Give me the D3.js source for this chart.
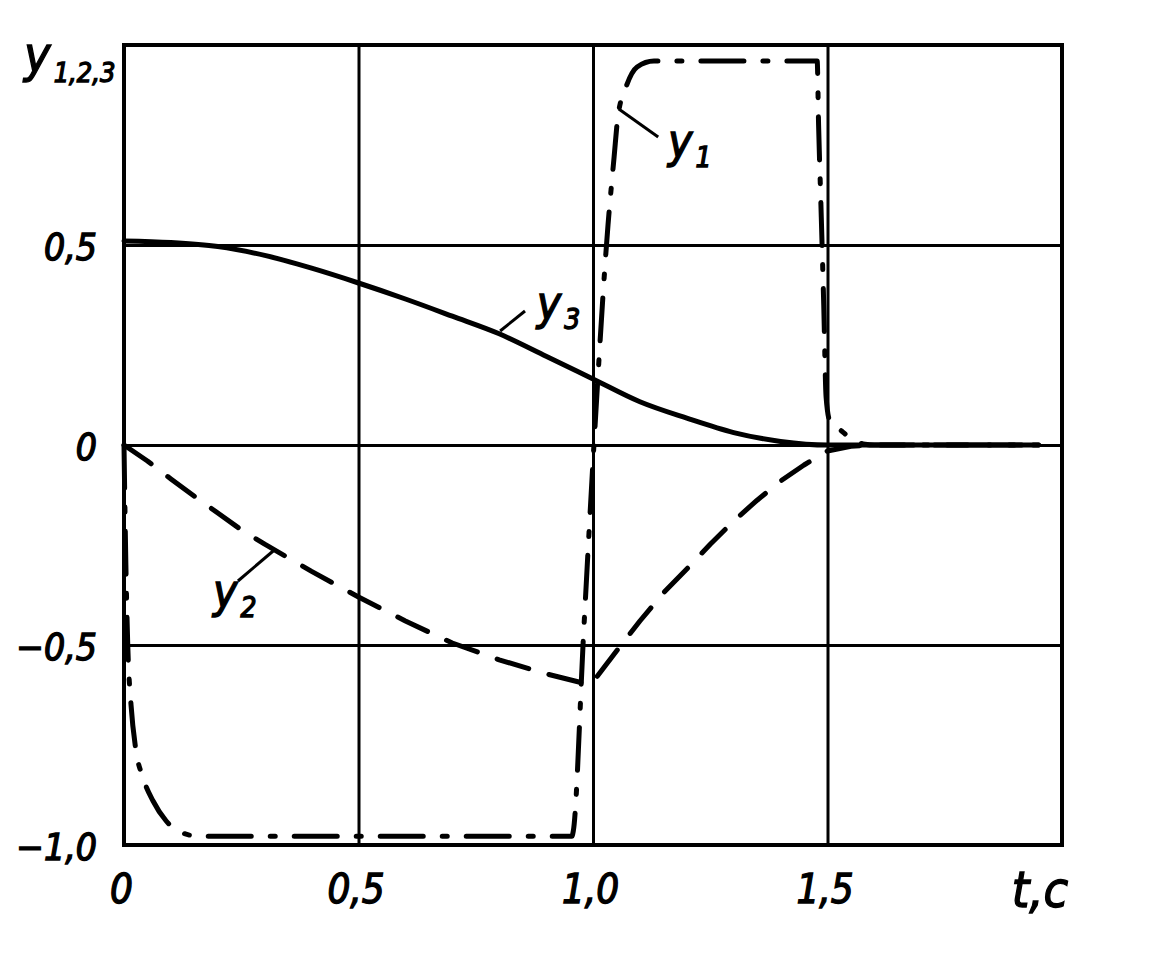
<!DOCTYPE html>
<html>
<head>
<meta charset="utf-8">
<script src="https://cdn.jsdelivr.net/npm/d3@7"></script>
<style>
  html, body { margin: 0; padding: 0; background: #fff; }
  svg { display: block; }
  .lbl { font-family: "Liberation Sans Narrow", "DejaVu Sans Condensed", "Liberation Sans", sans-serif; font-style: italic; fill: #000; stroke: #000; stroke-width: 1.3px; }
</style>
</head>
<body>
<svg id="chart" width="1161" height="957"></svg>
<script>
// ---- data ----
const xTickValues = [0, 0.5, 1.0, 1.5];
const xTickLabels = ["0", "0,5", "1,0", "1,5"];
const yTickValues = [-1.0, -0.5, 0, 0.5];
const yTickLabels = ["\u22121,0", "\u22120,5", "0", "0,5"];
const xGrid = [0.5, 1.0, 1.5];
const yGrid = [-0.5, 0, 0.5];

// y1 : dash-dot
const y1Series = [
  [0, 0], [0.004, -0.3], [0.008, -0.5], [0.015, -0.65], [0.025, -0.76],
  [0.04, -0.83], [0.062, -0.89], [0.09, -0.94], [0.125, -0.97], [0.16, -0.978],
  [0.955, -0.978], [0.958, -0.965], [0.98, -0.47], [1.002, 0], [1.032, 0.55],
  [1.045, 0.72], [1.053, 0.82], [1.072, 0.9], [1.094, 0.945], [1.13, 0.96],
  [1.478, 0.96], [1.481, 0.8], [1.486, 0.6], [1.492, 0.35], [1.497, 0.12],
  [1.505, 0.06], [1.53, 0.035], [1.555, 0.012], [1.58, 0.002], [1.6, 0], [1.95, 0]
];
// y2 : dashed
const y2Series = [
  [0, 0], [0.05, -0.04], [0.1, -0.085], [0.15, -0.128], [0.2, -0.17], [0.25, -0.212],
  [0.3, -0.248], [0.35, -0.282], [0.4, -0.316], [0.5, -0.38], [0.6, -0.44],
  [0.7, -0.495], [0.8, -0.537], [0.9, -0.572], [0.995, -0.6], [1.06, -0.5],
  [1.1, -0.44], [1.15, -0.37], [1.2, -0.31], [1.25, -0.248], [1.3, -0.19],
  [1.35, -0.138], [1.4, -0.09], [1.45, -0.05], [1.5, -0.015], [1.55, -0.003],
  [1.6, 0], [1.95, 0]
];
// y3 : solid
const y3Series = [
  [0, 0.51], [0.1, 0.506], [0.2, 0.496], [0.3, 0.474], [0.4, 0.442], [0.5, 0.405],
  [0.6, 0.365], [0.7, 0.322], [0.8, 0.278], [0.9, 0.222], [1.0, 0.165],
  [1.1, 0.108], [1.2, 0.067], [1.3, 0.031], [1.4, 0.009], [1.5, 0], [1.95, 0]
];

// curve labels: [t, value] of the text and leader line ends
const curveLabels = [
  { name: "y", sub: "1", at: [1.16, 0.72], leader: [[1.055, 0.84], [1.139, 0.77]] },
  { name: "y", sub: "2", at: [0.19, -0.405], leader: [[0.243, -0.34], [0.318, -0.265]] },
  { name: "y", sub: "3", at: [0.88, 0.315], leader: [[0.802, 0.285], [0.855, 0.335]] }
];

// ---- layout ----
const svg = d3.select("#chart");
const mLeft = 124, mRight = 1062, mTop = 45, mBottom = 845;
const x = d3.scaleLinear().domain([0, 2]).range([mLeft, mRight]);
const y = d3.scaleLinear().domain([-1, 1]).range([mBottom, mTop]);

// grid via axes
svg.append("g")
  .attr("transform", `translate(0,${mBottom})`)
  .call(d3.axisBottom(x).tickValues(xGrid).tickSize(-(mBottom - mTop)).tickFormat(""))
  .call(g => g.select(".domain").remove())
  .call(g => g.selectAll("line").attr("stroke", "#000").attr("stroke-width", 3));
svg.append("g")
  .attr("transform", `translate(${mLeft},0)`)
  .call(d3.axisLeft(y).tickValues(yGrid).tickSize(-(mRight - mLeft)).tickFormat(""))
  .call(g => g.select(".domain").remove())
  .call(g => g.selectAll("line").attr("stroke", "#000").attr("stroke-width", 3));

// frame
svg.append("rect")
  .attr("x", x(0)).attr("y", y(1))
  .attr("width", x(2) - x(0)).attr("height", y(-1) - y(1))
  .attr("fill", "none").attr("stroke", "#000").attr("stroke-width", 4);

// tick labels via axes
const xa = svg.append("g")
  .attr("transform", `translate(-3,${mBottom})`)
  .call(d3.axisBottom(x).tickValues(xTickValues).tickSize(0).tickPadding(30)
    .tickFormat((d, i) => xTickLabels[i]));
xa.select(".domain").remove();
xa.attr("font-family", null).attr("font-size", null);
xa.selectAll("text").attr("class", "lbl").attr("font-size", 40);

const ya = svg.append("g")
  .attr("transform", `translate(${mLeft},3)`)
  .call(d3.axisLeft(y).tickValues(yTickValues).tickSize(0).tickPadding(27)
    .tickFormat((d, i) => yTickLabels[i]));
ya.select(".domain").remove();
ya.attr("font-family", null).attr("font-size", null);
ya.selectAll("text").attr("class", "lbl").attr("font-size", 37);

// axis titles
const yt = svg.append("text").attr("class", "lbl").attr("x", 24).attr("y", 72);
yt.append("tspan").attr("font-size", 50).text("y");
yt.append("tspan").attr("font-size", 27).attr("dx", 3).attr("dy", 10).text("1,2,3");

svg.append("text").attr("class", "lbl")
  .attr("x", 1040).attr("y", 907).attr("text-anchor", "middle")
  .attr("font-size", 50).text("t,c");

// curves
const line = (curve) => d3.line().x(d => x(d[0])).y(d => y(d[1])).curve(curve);
svg.append("path").datum(y3Series)
  .attr("d", line(d3.curveMonotoneX))
  .attr("fill", "none").attr("stroke", "#000").attr("stroke-width", 5)
  .attr("stroke-linecap", "round").attr("stroke-linejoin", "round");
svg.append("path").datum(y2Series)
  .attr("d", line(d3.curveLinear))
  .attr("fill", "none").attr("stroke", "#000").attr("stroke-width", 5)
  .attr("stroke-dasharray", "33,21")
  .attr("stroke-linecap", "round").attr("stroke-linejoin", "round");
svg.append("path").datum(y1Series)
  .attr("d", line(d3.curveMonotoneX))
  .attr("fill", "none").attr("stroke", "#000").attr("stroke-width", 5)
  .attr("stroke-dasharray", "43,19,5,19")
  .attr("stroke-linecap", "round").attr("stroke-linejoin", "round");

// curve labels with leaders
curveLabels.forEach(c => {
  svg.append("line")
    .attr("x1", x(c.leader[0][0])).attr("y1", y(c.leader[0][1]))
    .attr("x2", x(c.leader[1][0])).attr("y2", y(c.leader[1][1]))
    .attr("stroke", "#000").attr("stroke-width", 3);
  const t = svg.append("text").attr("class", "lbl")
    .attr("x", x(c.at[0])).attr("y", y(c.at[1]));
  t.append("tspan").attr("font-size", 46).text(c.name);
  t.append("tspan").attr("font-size", 28).attr("dx", 3).attr("dy", 10).text(c.sub);
});
</script>
</body>
</html>
